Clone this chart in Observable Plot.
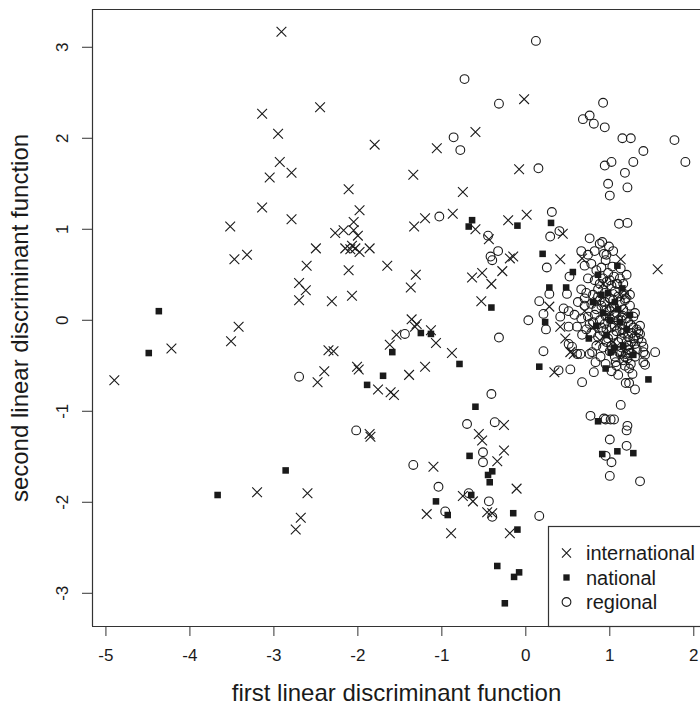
<!DOCTYPE html>
<html><head><meta charset="utf-8">
<script src="https://cdn.jsdelivr.net/npm/d3@7"></script>
<script src="https://cdn.jsdelivr.net/npm/@observablehq/plot@0.6"></script>
<style>body{margin:0;background:#fff;} svg{display:block;}</style>
</head><body><div id="chart"></div>
<script>
const groupNames = ["international", "national", "regional"];
const xTicks = [-5, -4, -3, -2, -1, 0, 1, 2];
const yTicks = [-3, -2, -1, 0, 1, 2, 3];
const xTitle = "first linear discriminant function";
const yTitle = "second linear discriminant function";

const international = [
[-2.91,3.17],[-3.14,2.27],[-2.95,2.05],[-2.93,1.74],[-3.05,1.57],[-2.79,1.62],[-3.14,1.24],[-2.79,1.11],
[-2.45,2.34],[-0.60,2.07],[-1.80,1.93],[-1.06,1.89],[-1.34,1.60],[-2.11,1.44],[-0.75,1.41],[-1.98,1.21],
[-1.20,1.12],[-0.87,1.17],[-0.21,1.10],[-2.05,1.08],[-0.02,2.43],[-0.08,1.66],[-3.52,1.03],[-3.47,0.67],
[-3.32,0.72],[-2.70,0.41],[-2.62,0.33],[-2.70,0.22],[-3.42,-0.07],[-3.51,-0.23],[-4.22,-0.31],[-4.90,-0.66],
[-2.27,0.96],[-2.17,0.99],[-2.05,0.99],[-2.00,0.93],[-1.33,1.03],[-0.60,1.00],[-0.44,0.89],[-2.50,0.79],
[-2.15,0.79],[-2.07,0.82],[-2.09,0.78],[-2.03,0.79],[-1.98,0.75],[-1.86,0.79],[-2.61,0.60],[-2.11,0.55],
[-1.65,0.60],[-1.31,0.50],[-1.37,0.36],[-2.31,0.21],[-2.07,0.27],[-0.64,0.47],[-0.52,0.52],[-0.28,0.54],
[-0.41,0.40],[-0.53,0.21],[-0.19,0.68],[-1.36,0.01],[-1.30,-0.04],[-1.32,-0.07],[-1.13,-0.11],[-1.54,-0.16],
[-1.07,-0.25],[-1.62,-0.27],[-0.88,-0.36],[-2.35,-0.33],[-2.29,-0.34],[-2.01,-0.51],[-1.99,-0.54],[-2.40,-0.56],
[-2.48,-0.68],[-1.76,-0.76],[-1.61,-0.79],[-1.57,-0.82],[-1.39,-0.60],[-1.20,-0.51],[-0.26,-1.15],[-1.86,-1.25],
[-1.85,-1.28],[-1.10,-1.61],[-2.60,-1.90],[-2.68,-2.17],[-2.74,-2.30],[-3.20,-1.89],[-1.18,-2.13],[-0.89,-2.34],
[-0.56,-1.25],[-0.52,-1.32],[-0.26,-1.43],[-0.34,-1.55],[-0.75,-1.93],[-0.63,-1.99],[-0.46,-2.11],[-0.40,-2.12],
[-0.19,-2.34],[-0.11,-1.85],[0.01,1.16],[-0.15,0.70],[0.44,0.95],[0.41,0.67],[0.28,0.15],[1.57,0.56],
[1.13,0.67],[0.41,-0.07],[0.47,-0.20],[0.53,-0.35],[0.57,-0.37],[0.34,-0.57],[0.67,0.68],
[0.85,0.20],[0.98,0.05],[1.08,-0.05],[1.18,-0.12],[0.92,0.40],[1.12,0.28],[0.80,-0.08],[1.26,-0.30],[0.70,0.10],[1.04,-0.24],
[1.00,0.18],[1.14,0.10],[0.88,-0.22],[1.20,0.30]
];

const national = [
[-4.37,0.10],[-4.49,-0.36],[-0.64,1.10],[-0.68,1.03],[-0.41,0.14],[-1.25,-0.14],[-1.13,-0.15],[-1.59,-0.35],
[-0.79,-0.48],[-1.70,-0.61],[-1.89,-0.71],[-0.60,-0.95],[-1.07,-1.99],[-0.93,-2.14],[-0.67,-1.49],[-0.40,-1.66],
[-0.45,-1.70],[-0.43,-1.78],[-0.65,-1.92],[-0.34,-2.70],[-0.25,-3.11],[-3.67,-1.92],[-2.86,-1.65],[-0.15,-2.12],
[-0.10,-2.30],[-0.14,-2.82],[-0.08,-2.77],[1.09,-1.44],[0.91,-1.47],[1.28,-1.46],[-0.10,1.04],[0.30,1.07],
[0.20,0.73],[0.56,0.53],[0.28,0.36],[0.48,0.36],[1.09,0.60],[0.23,-0.02],[0.16,-0.51],[0.86,-1.11],
[1.46,-0.65],[1.28,-0.38],[1.01,-0.35],[0.95,-0.53],
[0.92,0.08],[1.10,0.12],[0.84,-0.06],[1.20,-0.10],[0.98,0.30],[1.05,-0.30],[0.80,0.20],[1.15,0.35],[0.75,-0.20],
[1.00,0.00],[1.12,-0.02],[1.06,0.20],[0.90,0.28],[1.16,-0.28],[0.96,-0.16],[1.24,0.06],[0.86,0.50]
];

const regional = [
[0.12,3.07],[-0.73,2.65],[-0.32,2.38],[-0.86,2.01],[-0.78,1.87],[-1.03,1.14],[0.92,2.39],[0.68,2.21],
[0.76,2.25],[0.81,2.16],[0.94,2.12],[1.15,2.00],[1.25,2.00],[1.77,1.98],[1.40,1.86],[1.90,1.74],
[0.94,1.70],[1.02,1.74],[1.28,1.74],[1.18,1.62],[0.98,1.50],[1.21,1.46],[1.00,1.37],[0.15,1.67],
[0.31,1.19],[-0.45,0.93],[-0.33,0.76],[-0.42,0.70],[-0.40,0.66],[-0.32,-0.19],[-1.44,-0.15],[-2.70,-0.62],
[-0.41,-0.81],[-0.70,-1.14],[-0.37,-1.12],[-2.02,-1.21],[-1.34,-1.59],[-1.04,-1.83],[-0.96,-2.10],[-0.51,-1.45],
[-0.51,-1.56],[-0.68,-1.90],[-0.44,-1.99],[-0.40,-2.16],[1.00,-1.31],[1.20,-1.38],[0.95,-1.49],[1.02,-1.56],
[1.00,-1.71],[1.36,-1.77],[0.16,-2.15],[1.20,-1.21],[0.29,0.92],[0.40,0.98],[0.76,0.90],[0.25,0.58],
[0.52,0.48],[0.28,0.29],[0.49,0.29],[0.16,0.21],[0.21,0.07],[0.03,0.00],[0.45,0.13],[0.51,0.10],
[0.41,0.04],[1.11,1.06],[1.21,1.07],[1.13,0.57],[0.91,0.86],[0.99,0.81],[0.93,0.73],[0.95,0.66],
[1.03,0.59],[1.09,0.40],[1.17,0.29],[1.19,0.24],[0.24,-0.10],[0.51,-0.07],[0.61,-0.07],[0.67,-0.16],
[0.21,-0.34],[0.51,-0.26],[0.55,-0.29],[0.61,-0.37],[0.65,-0.37],[0.76,-0.37],[0.79,-0.35],[0.83,-0.46],
[0.81,-0.57],[0.89,-0.40],[0.39,-0.55],[0.53,-0.54],[0.67,-0.68],[0.77,-1.05],[0.93,-1.08],[1.54,-0.35],
[1.40,-0.35],[1.42,-0.38],[1.40,-0.29],[1.40,-0.46],[1.42,-0.49],[1.36,-0.15],[1.34,-0.13],[1.30,-0.18],
[1.38,-0.24],[1.19,-0.69],[1.23,-0.69],[1.30,-0.76],[1.27,-0.59],[1.23,-0.53],[1.25,-0.48],[0.95,-0.48],
[1.07,-0.46],[1.13,-0.93],[0.95,-1.09],[1.01,-1.09],[1.05,-1.09],[1.21,-1.16],[1.23,-0.32],[1.19,-0.37],
[1.21,-0.42],[1.13,-0.37],[1.11,-0.35],
[0.70,0.60],[0.78,0.62],[0.84,0.55],[0.90,0.58],[0.98,0.52],[1.05,0.48],
[0.74,0.46],[0.82,0.44],[0.88,0.40],[0.96,0.42],[1.02,0.38],[1.12,0.46],[1.20,0.50],
[0.66,0.34],[0.72,0.30],[0.80,0.28],[0.86,0.26],[0.94,0.30],[1.00,0.24],[1.06,0.32],[1.12,0.20],
[0.62,0.20],[0.70,0.16],[0.78,0.18],[0.84,0.12],[0.90,0.16],[0.96,0.12],[1.02,0.14],[1.08,0.08],[1.16,0.12],[1.24,0.16],[1.30,0.08],
[0.58,0.06],[0.66,0.02],[0.74,0.04],[0.80,-0.02],[0.88,0.00],[0.94,-0.04],[1.00,0.02],[1.06,-0.06],[1.14,0.00],[1.22,-0.02],[1.28,-0.08],
[0.72,-0.10],[0.78,-0.14],[0.86,-0.18],[0.92,-0.12],[0.98,-0.20],[1.04,-0.16],[1.10,-0.24],[1.16,-0.14],[1.22,-0.18],[1.30,-0.26],
[0.84,-0.28],[0.92,-0.30],[1.00,-0.34],[1.06,-0.40],[1.14,-0.30],[1.18,-0.50],[1.02,-0.56],[1.10,-0.60],
[0.74,0.72],[0.82,0.76],[0.88,0.84],[0.96,0.72],[1.04,0.76],[0.66,0.76],
[0.95,0.05],[1.00,0.10],[1.05,0.15],[1.10,0.00],[1.15,0.05],[1.20,0.02],[1.25,-0.05],[1.32,-0.10],[0.90,-0.08],
[0.96,-0.10],[1.02,-0.08],[1.08,-0.12],[1.14,-0.20],[1.20,-0.24],[1.26,-0.14],[1.34,-0.20],[0.88,0.22],[0.94,0.20],
[1.04,0.22],[1.10,0.26],[1.18,0.22],[1.24,0.28],[0.86,0.34],[0.92,0.46],[1.00,0.44],[1.08,0.40],[1.16,0.40],
[0.96,-0.24],[1.02,-0.28],[1.12,-0.34],[1.06,0.06],[0.82,0.06],[0.76,-0.04],[0.70,0.24],[1.28,0.04],[1.36,-0.06],
[1.32,-0.32],[1.18,-0.40],[1.08,-0.50],
[1.15,-0.10],[1.22,-0.28],[1.28,-0.20],[1.30,-0.40],[1.16,-0.44],[1.24,-0.36]
];

const toRows = (arr, g) => arr.map(([x, y]) => ({x, y, g}));
const intlRows = toRows(international, groupNames[0]);
const natRows = toRows(national, groupNames[1]);
const regRows = toRows(regional, groupNames[2]);

const xDomain = [-5.16, 2.08];
const yDomain = [-3.365, 3.415];
const ink = "#1a1a1a";
const font = "'Liberation Sans', Arial, Helvetica, sans-serif";

const plot = Plot.plot({
  width: 700, height: 708,
  marginLeft: 92, marginRight: 0, marginTop: 9, marginBottom: 82,
  style: {fontFamily: font, background: "#fff", color: ink, overflow: "visible"},
  x: {domain: xDomain},
  y: {domain: yDomain},
  marks: [
    Plot.dot(regRows, {x: "x", y: "y", symbol: "circle", r: 4.4, fill: "none", stroke: ink, strokeWidth: 1.1}),
    Plot.dot(intlRows, {x: "x", y: "y", symbol: "times", r: 4.5, stroke: ink, strokeWidth: 1.1}),
    Plot.dot(natRows, {x: "x", y: "y", symbol: "square", r: 3.7, fill: ink, stroke: "none"}),
    Plot.ruleX([xDomain[0]], {stroke: "#333", strokeWidth: 1.2}),
    Plot.ruleY(yDomain, {stroke: "#333", strokeWidth: 1.2}),
    Plot.axisX(xTicks, {tickSize: 10, tickPadding: 12, fontSize: 17, tickFormat: d => String(d), label: null, stroke: "#333"}),
    Plot.axisY(yTicks, {tickSize: 10, tickFormat: () => "", label: null, stroke: "#333"}),
    Plot.text(yTicks, {y: d => d, frameAnchor: "left", dx: -30, rotate: -90, textAnchor: "middle", lineAnchor: "middle", text: d => String(d), fontSize: 17, fill: ink}),
    Plot.text([xTitle], {frameAnchor: "bottom", dy: 67, textAnchor: "middle", lineAnchor: "middle", text: d => d, fontSize: 24, fill: ink}),
    Plot.text([yTitle], {frameAnchor: "left", dx: -72, rotate: -90, textAnchor: "middle", lineAnchor: "middle", text: d => d, fontSize: 24, fill: ink})
  ]
});

// legend (layout element, R-style box in the bottom-right corner)
const svg = d3.select(plot);
const lg = svg.append("g");
lg.append("rect").attr("x", 548.5).attr("y", 526.5).attr("width", 200).attr("height", 100)
  .attr("fill", "#fff").attr("stroke", "#333").attr("stroke-width", 1.2);
const entries = [
  {name: groupNames[0], sym: d3.symbolTimes, size: 55, fill: "none", stroke: ink},
  {name: groupNames[1], sym: d3.symbolSquare, size: 40, fill: ink, stroke: "none"},
  {name: groupNames[2], sym: d3.symbolCircle, size: 60, fill: "none", stroke: ink}
];
entries.forEach((e, i) => {
  const cy = 553 + i * 24.5;
  lg.append("path").attr("d", d3.symbol(e.sym, e.size)()).attr("transform", `translate(566.5,${cy})`)
    .attr("fill", e.fill).attr("stroke", e.stroke).attr("stroke-width", 1.1);
  lg.append("text").attr("x", 586).attr("y", cy).attr("dy", "0.35em").attr("font-size", 20)
    .attr("text-anchor", "start").attr("font-family", font).attr("fill", ink).text(e.name);
});

document.getElementById("chart").appendChild(plot);
</script>
</body></html>
